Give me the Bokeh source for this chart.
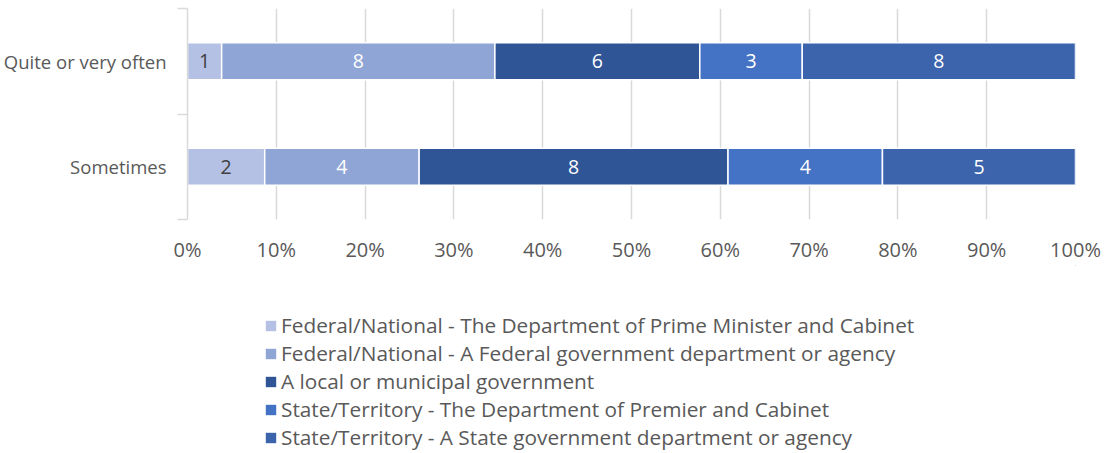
from bokeh.plotting import figure
from bokeh.layouts import column
from bokeh.models import ColumnDataSource, FixedTicker, Legend, LegendItem, Range1d, NumeralTickFormatter, CustomJSTickFormatter
from bokeh.core.properties import value
from bokeh.embed import file_html
from bokeh.resources import INLINE

categories = ["Sometimes", "Quite or very often"]
series = [
    "Federal/National - The Department of Prime Minister and Cabinet",
    "Federal/National - A Federal government department or agency",
    "A local or municipal government",
    "State/Territory - The Department of Premier and Cabinet",
    "State/Territory - A State government department or agency",
]
values = {
    "Sometimes": [2, 4, 8, 4, 5],
    "Quite or very often": [1, 8, 6, 3, 8],
}
colors = ["#B4C1E4", "#8FA5D6", "#2F5597", "#4472C4", "#3B64AD"]
label_colors = ["#404040", "#FFFFFF", "#FFFFFF", "#FFFFFF", "#FFFFFF"]
xticks = [i / 10 for i in range(11)]

FONT = "Open Sans"
GRAY = "#595959"

p = figure(width=1104, height=265, output_backend="svg", toolbar_location=None,
           x_range=Range1d(0, 1), y_range=Range1d(0, 2),
           min_border_left=187, min_border_right=29, min_border_top=8, min_border_bottom=45)
p.outline_line_color = None
p.background_fill_color = "white"

ycenter = {c: i + 0.5 for i, c in enumerate(categories)}
for si, s in enumerate(series):
    lefts, rights, ys, mids, txt = [], [], [], [], []
    for c in categories:
        vals = values[c]
        tot = sum(vals)
        left = sum(vals[:si]) / tot
        right = sum(vals[:si + 1]) / tot
        lefts.append(left)
        rights.append(right)
        ys.append(ycenter[c])
        mids.append((left + right) / 2)
        txt.append(str(vals[si]))
    src = ColumnDataSource(dict(left=lefts, right=rights, y=ys, mid=mids, txt=txt))
    p.hbar(y="y", left="left", right="right", height=0.35, source=src,
           fill_color=colors[si], line_color="white", line_width=1.5)
    p.text(x="mid", y="y", text="txt", source=src, text_align="center", text_baseline="middle",
           text_color=label_colors[si], text_font=value(FONT), text_font_size="19.5px")

# x axis
p.xaxis.ticker = FixedTicker(ticks=xticks)
p.xaxis.formatter = NumeralTickFormatter(format="0%")
p.xaxis.axis_line_color = None
p.xaxis.major_tick_line_color = None
p.xaxis.minor_tick_line_color = None
p.xaxis.major_tick_out = 0
p.xaxis.major_tick_in = 0
p.xaxis.major_label_standoff = 16
p.xaxis.major_label_text_font = FONT
p.xaxis.major_label_text_font_size = "20px"
p.xaxis.major_label_text_color = GRAY

# y axis
p.yaxis.ticker = FixedTicker(ticks=[0.5, 1.5], minor_ticks=[0, 1, 2])
p.yaxis.formatter = CustomJSTickFormatter(args=dict(cats=categories), code="return cats[Math.round(tick - 0.5)];")
p.yaxis.axis_line_color = "#D9D9D9"
p.yaxis.axis_line_width = 1.5
p.yaxis.major_tick_line_color = None
p.yaxis.major_tick_out = 0
p.yaxis.major_tick_in = 0
p.yaxis.minor_tick_line_color = "#D9D9D9"
p.yaxis.minor_tick_line_width = 1.5
p.yaxis.minor_tick_out = 10
p.yaxis.minor_tick_in = 0
p.yaxis.major_label_standoff = 11
p.yaxis.major_label_text_font = FONT
p.yaxis.major_label_text_font_size = "18.5px"
p.yaxis.major_label_text_color = GRAY

p.xgrid.ticker = FixedTicker(ticks=xticks)
p.xgrid.grid_line_color = "#D9D9D9"
p.xgrid.grid_line_width = 1.5
p.ygrid.grid_line_color = None

# legend figure (its frame is aligned with the main figure's frame in the column)
lf = figure(width=1104, height=188, output_backend="svg", toolbar_location=None,
            x_range=Range1d(0, 1), y_range=Range1d(0, 1), x_axis_type=None, y_axis_type=None,
            min_border_left=187, min_border_right=29, min_border_top=0, min_border_bottom=0)
lf.outline_line_color = None
lf.xgrid.grid_line_color = None
lf.ygrid.grid_line_color = None
hidden = ColumnDataSource(dict(y=[5], left=[5], right=[6]))
items = []
for si, s in enumerate(series):
    r = lf.hbar(y="y", left="left", right="right", height=0.5, source=hidden,
                fill_color=colors[si], line_color=None)
    items.append(LegendItem(label=s, renderers=[r]))

legend = Legend(items=items, orientation="vertical", location=(77, 2),
                label_text_font=FONT, label_text_font_size="20.8px", label_text_color=GRAY,
                glyph_width=13, glyph_height=13, label_height=28, spacing=0,
                border_line_color=None, background_fill_alpha=0, padding=0, margin=0,
                label_standoff=4)
lf.add_layout(legend, "center")

layout = column(p, lf, spacing=0)
open("out.html", "w").write(file_html(layout, INLINE))
